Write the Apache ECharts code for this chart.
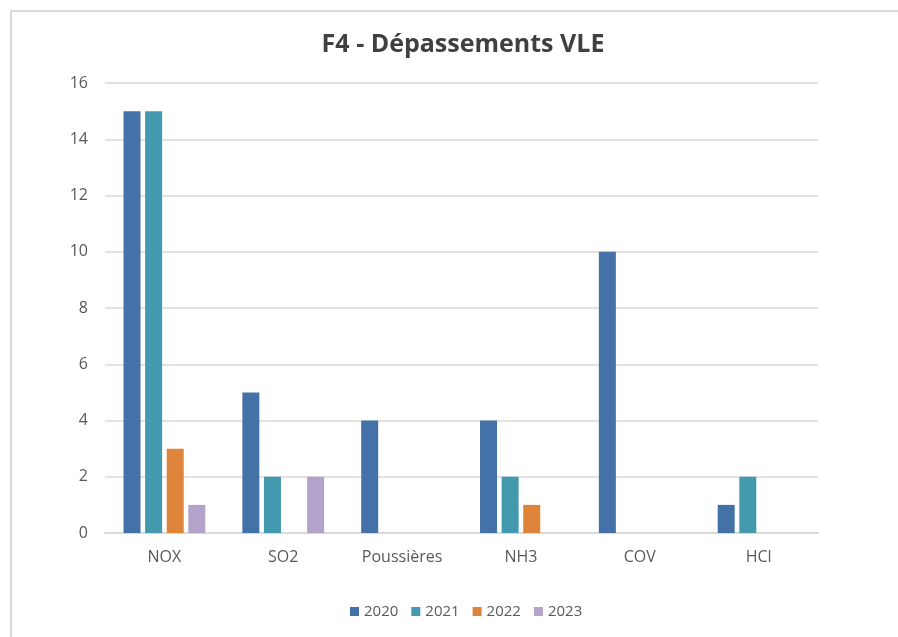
<!DOCTYPE html>
<html>
<head>
<meta charset="utf-8">
<script src="https://cdn.jsdelivr.net/npm/echarts@6/dist/echarts.min.js"></script>
<style>
  html, body { margin: 0; padding: 0; background: #fff; overflow: hidden; width: 898px; height: 637px; }
  #frame { position: absolute; left: 10px; top: 10px; width: 1000px; height: 1000px;
           border-left: 2px solid #d9d9d9; border-top: 2px solid #d9d9d9; }
  #chart { position: absolute; left: 0; top: 0; width: 898px; height: 637px; }
</style>
</head>
<body>
<div id="frame"></div>
<div id="chart"></div>
<script>
// Données
const categories = ['NOX', 'SO2', 'Poussières', 'NH3', 'COV', 'HCl'];
const years = ['2020', '2021', '2022', '2023'];
const values2020 = [15, 5, 4, 4, 10, 1];
const values2021 = [15, 2, 0, 2, 0, 2];
const values2022 = [3, 0, 0, 1, 0, 0];
const values2023 = [1, 2, 0, 0, 0, 0];
const yTicks = [0, 2, 4, 6, 8, 10, 12, 14, 16];

const colors = ['#4472a8', '#4399ae', '#de843b', '#b3a2c9'];
const seriesValues = [values2020, values2021, values2022, values2023];

const chart = echarts.init(document.getElementById('chart'));
const font = "'Open Sans', 'Noto Sans', sans-serif";

const option = {
    animation: false,
    textStyle: { fontFamily: font },
    title: {
        text: 'F4 - Dépassements VLE',
        left: 458,
        top: 27,
        textAlign: 'center',
        textStyle: { fontSize: 25, fontWeight: 'bold', color: '#404040', fontFamily: font }
    },
    legend: {
        data: years,
        bottom: 13,
        left: 345,
        itemWidth: 9,
        itemHeight: 9,
        itemGap: 13,
        icon: 'rect',
        textStyle: { fontSize: 15, color: '#595959', fontFamily: font }
    },
    grid: {
        left: 105,
        right: 80,
        top: 83,
        bottom: 104
    },
    xAxis: {
        type: 'category',
        data: categories,
        axisLine: { lineStyle: { color: '#d9d9d9', width: 2 } },
        axisTick: { show: false },
        axisLabel: { fontSize: 16, color: '#595959', margin: 16, fontFamily: font }
    },
    yAxis: {
        type: 'value',
        min: yTicks[0],
        max: yTicks[yTicks.length - 1],
        interval: 2,
        axisLine: { show: false },
        axisTick: { show: false },
        splitLine: { lineStyle: { color: '#d9d9d9', width: 1.5 } },
        axisLabel: { fontSize: 16, color: '#595959', margin: 17, fontFamily: font }
    },
    series: years.map((y, i) => ({
        name: y,
        type: 'bar',
        data: seriesValues[i],
        barWidth: 17,
        barGap: '27%',
        itemStyle: { color: colors[i] }
    }))
};

chart.setOption(option);
</script>
</body>
</html>
